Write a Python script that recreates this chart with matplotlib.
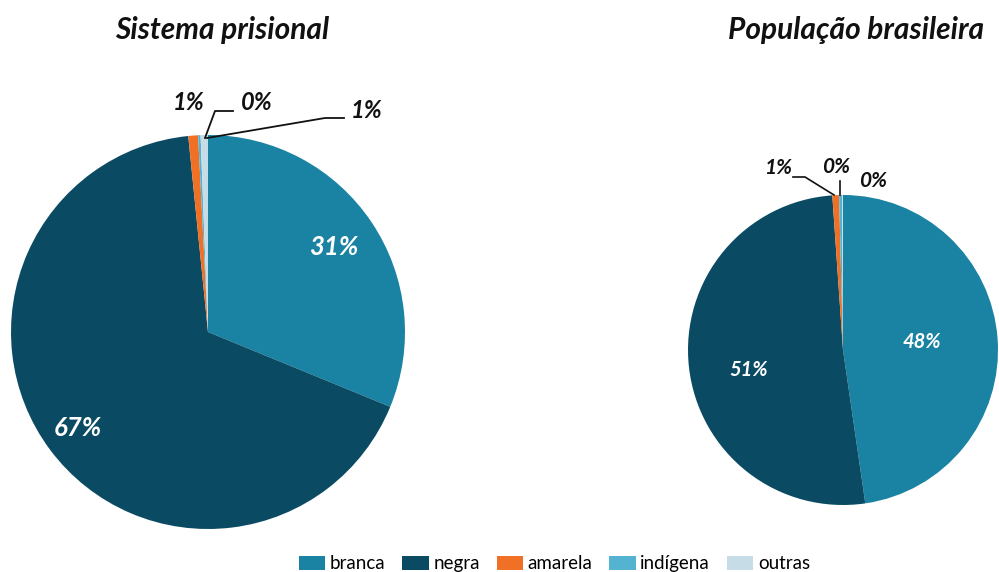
import matplotlib.pyplot as plt
from matplotlib.patches import Patch

# categories and colours
categorias = ["branca", "negra", "amarela", "indígena", "outras"]
cores = ["#1a82a3", "#0a4b63", "#f07125", "#55b3d2", "#c6dde8"]

# shares (%)
prisional = [31.2, 67.2, 0.8, 0.2, 0.6]
populacao = [47.7, 51.2, 0.7, 0.3, 0.1]

titulos = ["Sistema prisional", "População brasileira"]

fig = plt.figure(figsize=(9.99, 5.72), dpi=100)
ax = fig.add_axes([0, 0, 1, 1])

H = 572


def draw_pie(vals, cx, cy, r):
    wedges, _ = ax.pie(vals, colors=cores, startangle=90, counterclock=False,
                       center=(cx, H - cy), radius=r,
                       wedgeprops=dict(linewidth=0))
    return wedges


draw_pie(prisional, 208, 332, 197)
draw_pie(populacao, 843, 350, 155)

ax.set_xlim(0, 999)
ax.set_ylim(0, H)
ax.set_aspect("equal")
ax.axis("off")

lab = dict(family="Lato", weight="bold", style="italic")


def pct(v):
    return "%d%%" % round(v)


# titles
ax.text(222, H - 30, titulos[0], ha="center", va="center", fontsize=21.5, color="#111111", **lab)
ax.text(856, H - 30, titulos[1], ha="center", va="center", fontsize=21.5, color="#111111", **lab)

# big labels inside slices
ax.text(334, H - 247, pct(prisional[0]), ha="center", va="center", fontsize=18.5, color="white", **lab)
ax.text(78, H - 428, pct(prisional[1]), ha="center", va="center", fontsize=18.5, color="white", **lab)
ax.text(922, H - 342, pct(populacao[0]), ha="center", va="center", fontsize=14.5, color="white", **lab)
ax.text(749, H - 370, pct(populacao[1]), ha="center", va="center", fontsize=14.5, color="white", **lab)

# small slices, left pie
ax.text(189, H - 103, pct(prisional[2]), ha="center", va="center", fontsize=17, color="#111111", **lab)
ax.text(257, H - 103, pct(prisional[3]), ha="center", va="center", fontsize=17, color="#111111", **lab)
ax.text(367, H - 110, pct(prisional[4]), ha="center", va="center", fontsize=17, color="#111111", **lab)
ax.plot([205, 215, 233], [H - 138, H - 111, H - 111], color="#111111", lw=1.3)
ax.plot([207, 325, 344], [H - 138, H - 118, H - 118], color="#111111", lw=1.3)

# small slices, right pie
ax.text(778, H - 168, pct(populacao[2]), ha="center", va="center", fontsize=15, color="#111111", **lab)
ax.text(836, H - 167, pct(populacao[3]), ha="center", va="center", fontsize=15, color="#111111", **lab)
ax.text(873, H - 181, pct(populacao[4]), ha="center", va="center", fontsize=15, color="#111111", **lab)
ax.plot([793, 805, 834], [H - 177, H - 177, H - 195], color="#111111", lw=1.2)
ax.plot([840, 840], [H - 181, H - 195], color="#111111", lw=1.2)

handles = [Patch(facecolor=c, edgecolor="none") for c in cores]
fig.legend(handles, categorias, loc="lower center", bbox_to_anchor=(0.555, -0.03),
           ncol=5, frameon=False, prop=dict(family="Lato", size=13.5),
           handlelength=1.4, handleheight=0.75, handletextpad=0.25, columnspacing=0.9)

fig.savefig("out.png", dpi=100)
